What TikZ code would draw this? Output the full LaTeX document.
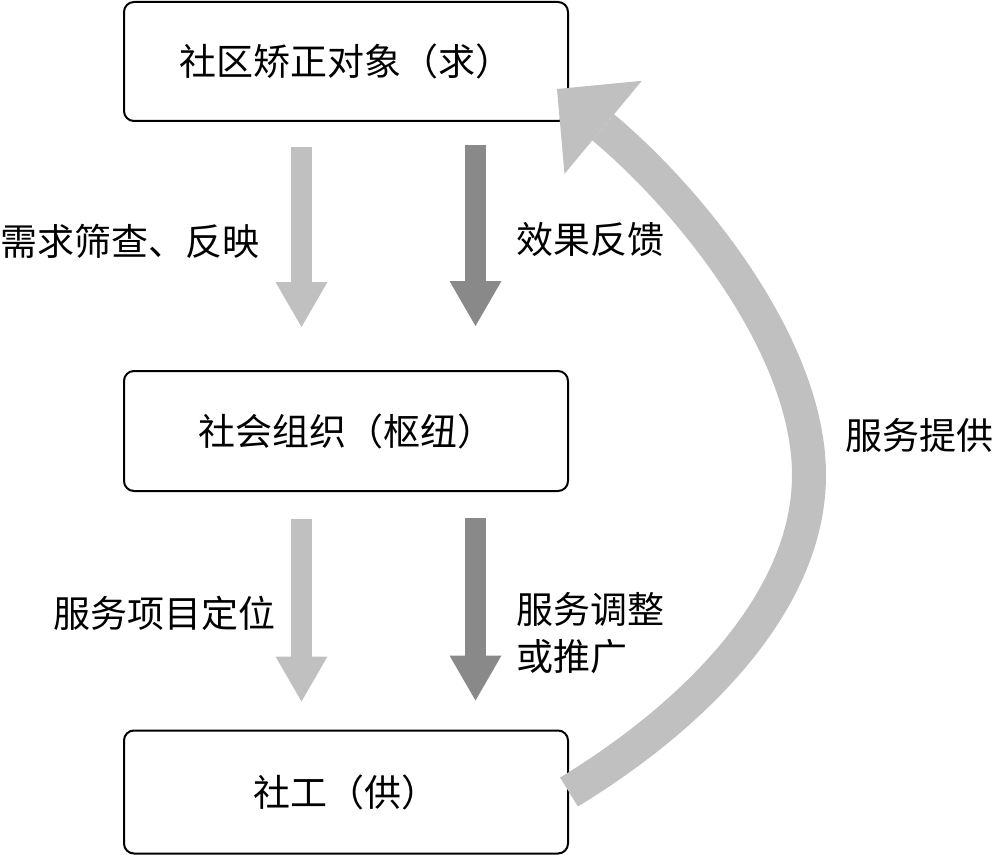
\documentclass[tikz,border=0pt]{standalone}
\usepackage{fontspec}
\newfontfamily\cjk{Noto Sans CJK SC}
\usetikzlibrary{arrows.meta,calc}
\definecolor{lightg}{RGB}{192,192,192}
\definecolor{darkg}{RGB}{137,137,137}
\begin{document}
\begin{tikzpicture}[x=1pt,y=-1pt,
  box/.style={draw=black, line width=2pt, rounded corners=10pt, fill=white,
    minimum width=444pt, inner sep=0pt, font=\cjk\fontsize{37}{44}\selectfont},
  lbl/.style={inner sep=0pt, font=\cjk\fontsize{37}{47}\selectfont, align=left},
  lightarrow/.style={draw=lightg, line width=21pt,
    -{Triangle[length=45pt,width=52pt,line width=0pt]}},
  darkarrow/.style={draw=darkg, line width=21pt,
    -{Triangle[length=45pt,width=52pt,line width=0pt]}},
  bigarrow/.style={draw=lightg, line width=34pt,
    -{Triangle[length=60pt,width=121pt,line width=0pt]}}
]
\useasboundingbox (0,0) rectangle (994,856);

% boxes
\node[box, minimum height=119pt] (top) at (346,61.5) {社区矫正对象（求）};
\node[box, minimum height=120pt] (mid) at (346,431) {社会组织（枢纽）};
\node[box, minimum height=123pt] (bot) at (346,792) {社工（供）};

% straight arrows
\draw[lightarrow, shorten <=25pt, shorten >=43pt]
  ($(top.south)+(-44.5,0)$) -- ($(mid.north)+(-44.5,0)$);
\draw[darkarrow, shorten <=23pt, shorten >=44pt]
  ($(top.south)+(129.5,0)$) -- ($(mid.north)+(129.5,0)$);
\draw[lightarrow, shorten <=27pt, shorten >=28pt]
  ($(mid.south)+(-44.5,0)$) -- ($(bot.north)+(-44.5,0)$);
\draw[darkarrow, shorten <=26pt, shorten >=29pt]
  ($(mid.south)+(129.5,0)$) -- ($(bot.north)+(129.5,0)$);

% curved arrow
\coordinate (tipend) at ($(top.south east)+(-12,-33)$);
\draw[bigarrow] (bot.east) .. controls (697,714) and (809,600) .. (809,475)
  .. controls (809,345) and (687,197) .. (tipend);

% labels
\node[lbl, anchor=west] (l1) at (0,241) {需求筛查、反映};
\node[lbl, anchor=west] (l2) at (516,239) {效果反馈};
\node[lbl, anchor=west] (l3) at (53,613) {服务项目定位};
\node[lbl, anchor=north west] (l4) at (516,592) {服务调整\\或推广};
\node[lbl, anchor=west] (l5) at (845,435) {服务提供};
\end{tikzpicture}
\end{document}
